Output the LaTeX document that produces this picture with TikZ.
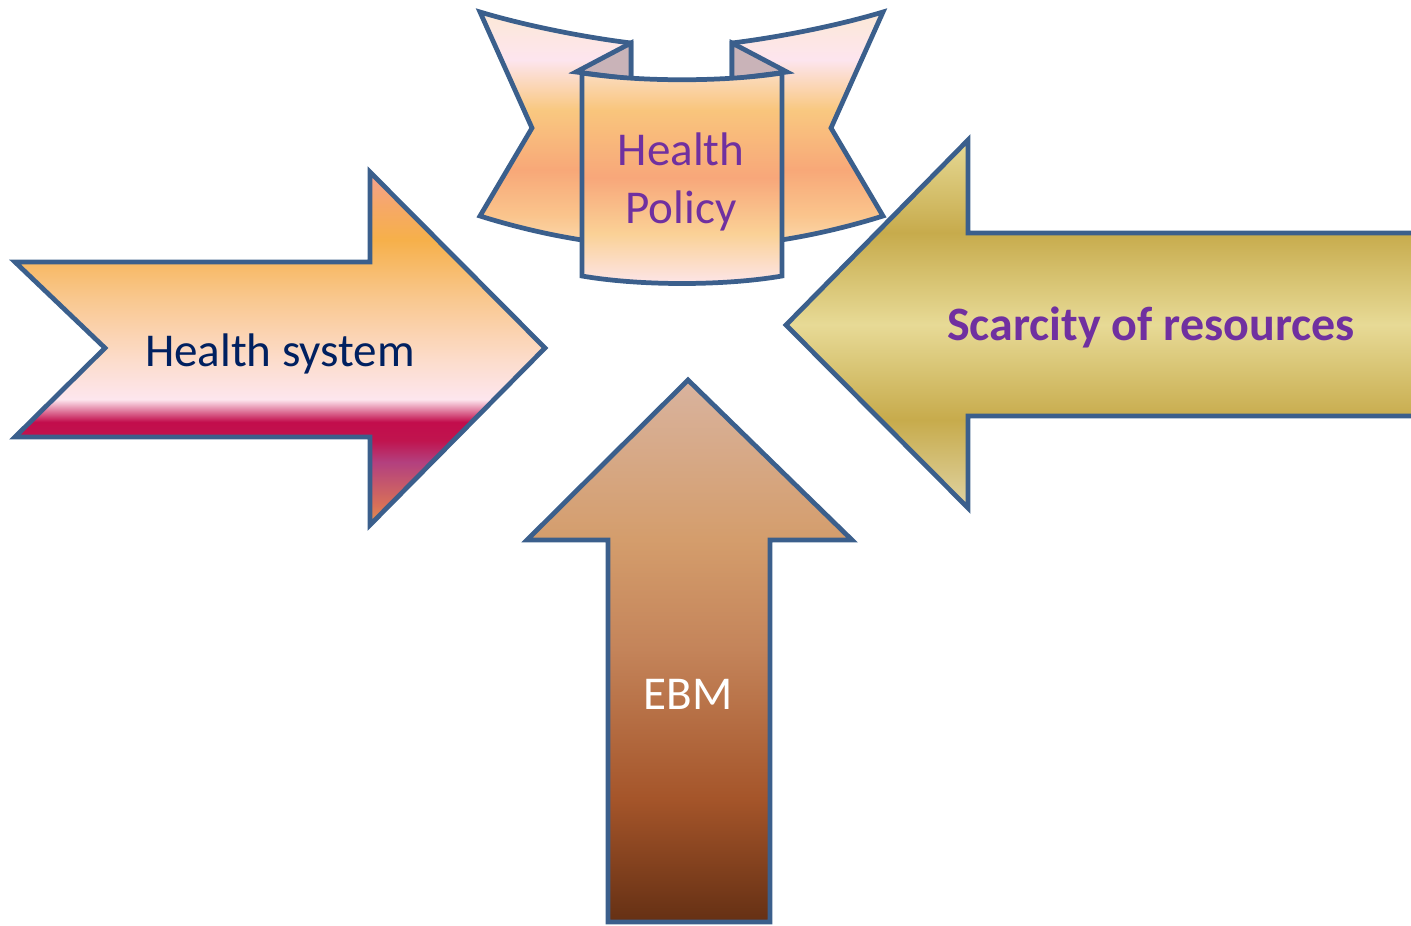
\documentclass[tikz,border=0pt]{standalone}
\usepackage{fontspec}
\setmainfont{Carlito}
\usepackage{tikz}

\definecolor{outline}{HTML}{3B5F8C}
\definecolor{purpletext}{HTML}{7030A0}
\definecolor{navytext}{HTML}{002060}
\definecolor{foldgrey}{HTML}{C9B3B8}

% health system arrow
\definecolor{hsA}{HTML}{E39453}
\definecolor{hsB}{HTML}{D87058}
\definecolor{hsC}{HTML}{B3407F}
\definecolor{hsD}{HTML}{C0144E}
\definecolor{hsE}{HTML}{C20D4C}
\definecolor{hsF}{HTML}{FDE6EE}
\definecolor{hsG}{HTML}{FCDCCB}
\definecolor{hsH}{HTML}{F9C890}
\definecolor{hsI}{HTML}{F6B04A}
\definecolor{hsJ}{HTML}{F6A868}
\definecolor{hsK}{HTML}{F4A090}
\pgfdeclareverticalshading{healthsys}{100bp}{color(0bp)=(hsA); color(25bp)=(hsA);
  color(27.8bp)=(hsB); color(33.9bp)=(hsC); color(37bp)=(hsD); color(39.6bp)=(hsE);
  color(42.8bp)=(hsF); color(48.4bp)=(hsG); color(56.9bp)=(hsH); color(65.4bp)=(hsI);
  color(70.3bp)=(hsJ); color(75bp)=(hsK); color(100bp)=(hsK)}

% scarcity arrow
\definecolor{goldlight}{HTML}{E7DA96}
\definecolor{golddark}{HTML}{C7AB4C}
\definecolor{goldpale}{HTML}{E0D4A4}
\pgfdeclareverticalshading{scarcity}{100bp}{color(0bp)=(goldpale); color(25bp)=(goldpale);
  color(37bp)=(golddark); color(49.9bp)=(goldlight); color(62.4bp)=(golddark);
  color(75bp)=(goldlight); color(100bp)=(goldlight)}

% ebm arrow
\definecolor{ebmA}{HTML}{653014}
\definecolor{ebmB}{HTML}{A5552A}
\definecolor{ebmC}{HTML}{C4845A}
\definecolor{ebmD}{HTML}{D49D6C}
\definecolor{ebmE}{HTML}{D9B39E}
\pgfdeclareverticalshading{ebm}{100bp}{color(0bp)=(ebmA); color(25bp)=(ebmA);
  color(36.4bp)=(ebmB); color(50.2bp)=(ebmC); color(60.3bp)=(ebmD);
  color(75bp)=(ebmE); color(100bp)=(ebmE)}

% banner
\definecolor{rbA}{HTML}{FBD6A8}
\definecolor{rbB}{HTML}{FAC48C}
\definecolor{rbC}{HTML}{F8A878}
\definecolor{rbD}{HTML}{F9C880}
\definecolor{rbE}{HTML}{FDE5EE}
\definecolor{rbF}{HTML}{FCE8D6}
\pgfdeclareverticalshading{ribbontail}{100bp}{color(0bp)=(rbA); color(25bp)=(rbA);
  color(30.5bp)=(rbB); color(40.4bp)=(rbC); color(53.5bp)=(rbD); color(64.5bp)=(rbE);
  color(75bp)=(rbF); color(100bp)=(rbF)}
\definecolor{rfA}{HTML}{FDE6EC}
\definecolor{rfB}{HTML}{FAD196}
\definecolor{rfC}{HTML}{F8A77A}
\definecolor{rfD}{HTML}{F9C57C}
\definecolor{rfE}{HTML}{FBDCC0}
\pgfdeclareverticalshading{ribbonfront}{100bp}{color(0bp)=(rfA); color(25bp)=(rfA);
  color(37.3bp)=(rfB); color(50.5bp)=(rfC); color(66.3bp)=(rfD);
  color(75bp)=(rfE); color(100bp)=(rfE)}

\begin{document}
\begin{tikzpicture}[x=0.02cm, y=-0.02cm,
    bordered/.style={draw=outline, line width=2.7pt},
    label26/.style={inner sep=0pt, font=\fontsize{26.8}{33}\selectfont}]
		%%%%% START %%%%%
		\useasboundingbox (0,0) rectangle (1411,926);
		
		% banner tails
		\shade[bordered, shading=ribbontail] (480,12) .. controls (530,27) and (590,38) .. (631,43) -- (631,200) -- (582,240) .. controls (550,235) and (515,227) .. (480,216) -- (532,128) -- cycle;
		\shade[bordered, shading=ribbontail] (883,12) .. controls (833,27) and (773,38) .. (732,43) -- (732,200) -- (781,240) .. controls (813,235) and (848,227) .. (883,216) -- (831,128) -- cycle;
		
		% folds
		\draw[bordered, fill=foldgrey] (631,43) -- (576,72) -- (631,79) -- cycle;
		\draw[bordered, fill=foldgrey] (732,43) -- (787,72) -- (732,79) -- cycle;
		
		% banner front
		\shade[bordered, shading=ribbonfront] (582,73) .. controls (640,82) and (724,82) .. (782,73) -- (782,276) .. controls (724,286) and (640,286) .. (582,276) -- cycle;
		\node[label26, color=purpletext, align=center] (policy) at (681,182) {Health\\Policy};
		
		% health system arrow
		\shade[bordered, shading=healthsys] (15,262) -- (370,262) -- (370,172) -- (545,348) -- (370,525) -- (370,437) -- (15,437) -- (105,348) -- cycle;
		\node[label26, color=navytext, anchor=base] (system) at (280,366) {Health system};
		
		% scarcity arrow
		\shade[bordered, shading=scarcity] (1415,233) -- (968,233) -- (968,140) -- (786,325) -- (968,508) -- (968,416) -- (1415,416);
		\node[label26, color=purpletext, anchor=base, font=\fontsize{27.3}{33}\selectfont\bfseries] (scarcity) at (1151,340) {Scarcity of resources};
		
		% ebm arrow
		\shade[bordered, shading=ebm] (608,922) -- (608,540) -- (527,540) -- (688,380) -- (852,540) -- (770,540) -- (770,922) -- cycle;
		\node[label26, color=white, anchor=base] (ebmtext) at (688,709) {EBM};
		
		%%%%% END %%%%%
	\end{tikzpicture}
\end{document}
